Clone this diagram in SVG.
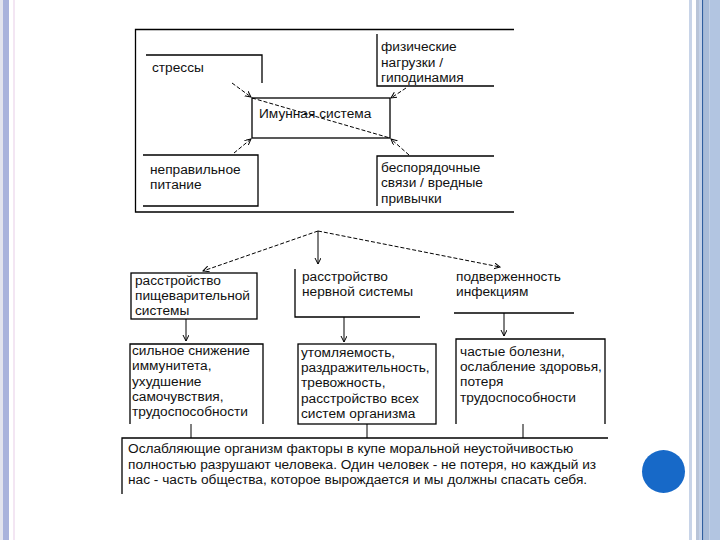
<svg xmlns="http://www.w3.org/2000/svg" width="720" height="540" viewBox="0 0 720 540">
<style>
.t{font-family:"Liberation Sans",Arial,sans-serif;font-size:13.7px;fill:#111}
.ln{stroke:#000;stroke-width:1.3;fill:none}
.ds{stroke:#000;stroke-width:1;fill:none;stroke-dasharray:4 2}
.sl{stroke:#000;stroke-width:1;fill:none}
</style>
<defs>
<marker id="ah" markerWidth="8" markerHeight="8" refX="6" refY="3" orient="auto" markerUnits="userSpaceOnUse">
<path d="M0,0 L6,3 L0,6" fill="none" stroke="#000" stroke-width="1"/>
</marker>
</defs>
<rect width="720" height="540" fill="#fff"/>
<g id="border">
<rect x="0" y="0" width="3" height="540" fill="#e2e4ee"/>
<rect x="3" y="0" width="6" height="540" fill="#a9b3dc"/>
<rect x="13" y="0" width="2" height="540" fill="#f3e6f3"/>
<rect x="689" y="0" width="3" height="540" fill="#c8d4e8"/>
<rect x="696" y="0" width="3" height="540" fill="#b8c4d8"/>
<rect x="699" y="0" width="3" height="540" fill="#c4d2e8"/>
<rect x="702" y="0" width="1.5" height="540" fill="#2f5f9f"/>
<rect x="703.5" y="0" width="6" height="540" fill="#a8bcd8"/>
<rect x="709.5" y="0" width="10.5" height="540" fill="#b2c5e1"/>
<ellipse cx="663.5" cy="471.5" rx="21.5" ry="21.5" fill="#1769c8"/>
</g>
<g id="frame"><path class="ln" d="M514,29.5 H135.5 V212 H514"/></g>
<g id="stress"><path class="ln" d="M146,55 H262 V83"/><text class="t" x="152" y="72">стрессы</text></g>
<g id="phys"><path class="ln" d="M377,34 V86 H494"/>
<text class="t" x="381" y="51">физические</text><text class="t" x="381" y="67">нагрузки /</text><text class="t" x="381" y="82">гиподинамия</text></g>
<g id="immune"><rect class="ln" x="252" y="98" width="138" height="40"/><text class="t" x="259" y="118">Имунная система</text></g>
<g id="food"><path class="ln" d="M143,155 H258 V206 H143"/><text class="t" x="150" y="174">неправильное</text><text class="t" x="150" y="189">питание</text></g>
<g id="habits"><path class="ln" d="M494,156 H377 V206"/>
<text class="t" x="381" y="172">беспорядочные</text><text class="t" x="381" y="187">связи / вредные</text><text class="t" x="381" y="203">привычки</text></g>
<g id="digest"><rect class="ln" x="131" y="273" width="126" height="46"/>
<text class="t" x="135" y="285">расстройство</text><text class="t" x="135" y="300">пищеварительной</text><text class="t" x="135" y="315">системы</text></g>
<g id="nerve"><path class="ln" d="M295,269 V317 H420"/><text class="t" x="302" y="281">расстройство</text><text class="t" x="302" y="296">нервной системы</text></g>
<g id="infect"><path class="ln" d="M454,313 H574"/><text class="t" x="456" y="281">подверженность</text><text class="t" x="456" y="296">инфекциям</text></g>
<g id="res1"><path class="ln" d="M130,424 V344 H263 V424"/>
<text class="t" x="132" y="355">сильное снижение</text><text class="t" x="132" y="370">иммунитета,</text><text class="t" x="132" y="386">ухудшение</text><text class="t" x="132" y="401">самочувствия,</text><text class="t" x="132" y="416">трудоспособности</text></g>
<g id="res2"><rect class="ln" x="298" y="344" width="138" height="80"/>
<text class="t" x="301" y="357">утомляемость,</text><text class="t" x="301" y="372">раздражительность,</text><text class="t" x="301" y="387">тревожность,</text><text class="t" x="301" y="403">расстройство всех</text><text class="t" x="301" y="418">систем организма</text></g>
<g id="res3"><path class="ln" d="M456,424 V339 H605 V424"/>
<text class="t" x="460" y="356">частые болезни,</text><text class="t" x="460" y="371">ослабление здоровья,</text><text class="t" x="460" y="386">потеря</text><text class="t" x="460" y="402">трудоспособности</text></g>
<g id="summary"><path class="ln" d="M122,494 V438 H608"/>
<text class="t" x="128" y="453">Ослабляющие организм факторы в купе моральной неустойчивостью</text>
<text class="t" x="128" y="469">полностью разрушают человека. Один человек - не потеря, но каждый из</text>
<text class="t" x="128" y="484">нас - часть общества, которое вырождается и мы должны спасать себя.</text></g>
<g id="connectors">
<line class="ds" x1="232" y1="83" x2="251" y2="97" marker-end="url(#ah)"/>
<line class="ds" x1="252" y1="98" x2="390" y2="138"/>
<line class="ds" x1="406" y1="88" x2="391" y2="98" marker-end="url(#ah)"/>
<line class="ds" x1="234" y1="153" x2="251" y2="139" marker-end="url(#ah)"/>
<line class="ds" x1="409" y1="155" x2="391" y2="139" marker-end="url(#ah)"/>
<line class="ds" x1="318" y1="231" x2="203" y2="271" marker-end="url(#ah)"/>
<line class="sl" x1="318" y1="231" x2="318" y2="264" marker-end="url(#ah)"/>
<line class="ds" x1="318" y1="231" x2="500" y2="267" marker-end="url(#ah)"/>
<line class="sl" x1="186" y1="319" x2="186" y2="341" marker-end="url(#ah)"/>
<line class="sl" x1="344" y1="317" x2="344" y2="342" marker-end="url(#ah)"/>
<line class="sl" x1="504" y1="313" x2="504" y2="336" marker-end="url(#ah)"/>
<line class="sl" x1="191" y1="424" x2="191" y2="438"/>
<line class="sl" x1="367" y1="424" x2="367" y2="438"/>
<line class="sl" x1="523" y1="424" x2="523" y2="438"/>
</g>
</svg>
